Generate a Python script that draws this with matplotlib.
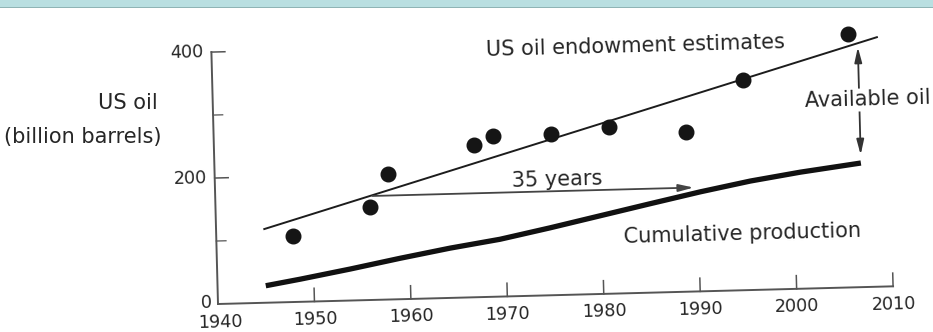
import matplotlib
matplotlib.use('Agg')
import matplotlib.pyplot as plt
from matplotlib.transforms import Affine2D
from matplotlib.patches import Rectangle

plt.rcParams['font.family'] = ['DejaVu Sans']

# --- data ---
est_years = [1948, 1956, 1958, 1967, 1969, 1975, 1981, 1989, 1995, 2006]
est_values = [105, 148, 199, 242, 255, 256, 265, 253, 334, 402]

trend_years = [1945, 2009]
trend_values = [117, 396]

cum_years = [1945, 1948.6, 1953.8, 1959, 1964.2, 1969.4, 1974.6, 1979.8, 1985,
             1990.3, 1995.5, 2000.7, 2007]
cum_values = [27, 36, 50, 65, 79, 91, 107, 124, 141, 158, 173, 185, 197]

x_ticks = [1940, 1950, 1960, 1970, 1980, 1990, 2000, 2010]
y_major = [200, 400]
y_minor = [100, 300]
y_labels = ['200', '400']

gap_years = [1956.3, 1989.6]   # "35 years" arrow
gap_level = 165
avail_year = 2007
avail_range = [210, 381]

tilt = 1.5          # the scan is slightly rotated
ink = '#1c1c1c'
axis_col = '#555555'
text_col = '#262626'

fig = plt.figure(figsize=(9.33, 3.32), dpi=100)
fig.patch.set_facecolor('white')
ax = fig.add_axes([218 / 933, 28 / 332, 675.3 / 933, 252 / 332])
ax.set_xlim(1940, 2010)
ax.set_ylim(0, 400)
ax.axis('off')

# rotate everything around the data origin
x0, y0 = ax.transData.transform((1940, 0))
tr = ax.transData + Affine2D().rotate_deg_around(x0, y0, tilt)

# --- axes drawn by hand so they follow the tilt ---
ax.plot([1940, 2010], [0, 0], color=axis_col, lw=1.4, transform=tr, clip_on=False)
ax.plot([1940, 1940], [0, 400], color=axis_col, lw=1.4, transform=tr, clip_on=False)
for t in x_ticks[1:]:
    ax.plot([t, t], [0, 21], color=axis_col, lw=1.1, transform=tr, clip_on=False)
    ax.text(t, -28, str(t), transform=tr, ha='center', va='center', rotation=tilt,
            rotation_mode='anchor', fontsize=12.7, color=text_col)
ax.text(1940.2, -30, '1940', transform=tr, ha='center', va='center', rotation=tilt,
        rotation_mode='anchor', fontsize=12.7, color=text_col)
for v, lab in zip(y_major, y_labels):
    ax.plot([1940, 1941.4], [v, v], color=axis_col, lw=1.1, transform=tr, clip_on=False)
    ax.text(1939.2, v, lab, transform=tr, ha='right', va='center', rotation=tilt,
            rotation_mode='anchor', fontsize=12.7, color=text_col)
for v in y_minor:
    ax.plot([1940, 1941.0], [v, v], color=axis_col, lw=0.9, transform=tr, clip_on=False)
ax.text(1939.4, 2, '0', transform=tr, ha='right', va='center', rotation=tilt,
        rotation_mode='anchor', fontsize=12.7, color=text_col)

# --- data ---
ax.plot(trend_years, trend_values, color=ink, lw=1.4, transform=tr, clip_on=False)
ax.plot(cum_years, cum_values, color='#111111', lw=3.8, solid_capstyle='butt',
        solid_joinstyle='round', transform=tr, clip_on=False)
ax.plot(est_years, est_values, 'o', color='#151515', markersize=10.5,
        transform=tr, clip_on=False, zorder=5)

ax.annotate('', xy=(gap_years[1], gap_level), xytext=(gap_years[0], gap_level),
            xycoords=tr, textcoords=tr,
            arrowprops=dict(arrowstyle='-|>,head_length=0.9,head_width=0.22',
                            color='#444444', lw=1.3, shrinkA=0, shrinkB=0))
ax.annotate('', xy=(avail_year, avail_range[1]), xytext=(avail_year, avail_range[0]),
            xycoords=tr, textcoords=tr,
            arrowprops=dict(arrowstyle='<|-|>,head_length=0.9,head_width=0.22',
                            color='#333333', lw=1.3, shrinkA=0, shrinkB=0))

# --- annotations ---
kw = dict(transform=tr, rotation=tilt, rotation_mode='anchor', fontsize=15, color=text_col)
ax.text(1983.9, 392, 'US oil endowment estimates', ha='center', va='center', **kw)
ax.text(1975.5, 183, '35 years', ha='center', va='center', **kw)
ax.text(1994.5, 89, 'Cumulative production', ha='center', va='center', **kw)
ax.text(2001.4, 297, 'Available oil', ha='left', va='center', zorder=6,
        bbox=dict(facecolor='white', edgecolor='none', pad=1), **kw)

fig.text(158 / 933, 1 - 103 / 332, 'US oil', ha='right', va='center',
         fontsize=15, color=text_col)
fig.text(161 / 933, 1 - 137 / 332, '(billion barrels)', ha='right', va='center',
         fontsize=15, color=text_col)

# light blue band along the top of the slide
fig.add_artist(Rectangle((0, 1 - 7 / 332), 1, 7 / 332, transform=fig.transFigure,
                         facecolor='#b9dfe1', edgecolor='none'))
fig.add_artist(Rectangle((0, 1 - 8 / 332), 1, 1.2 / 332, transform=fig.transFigure,
                         facecolor='#8fb4b5', edgecolor='none'))

fig.savefig('out.png', dpi=100)
